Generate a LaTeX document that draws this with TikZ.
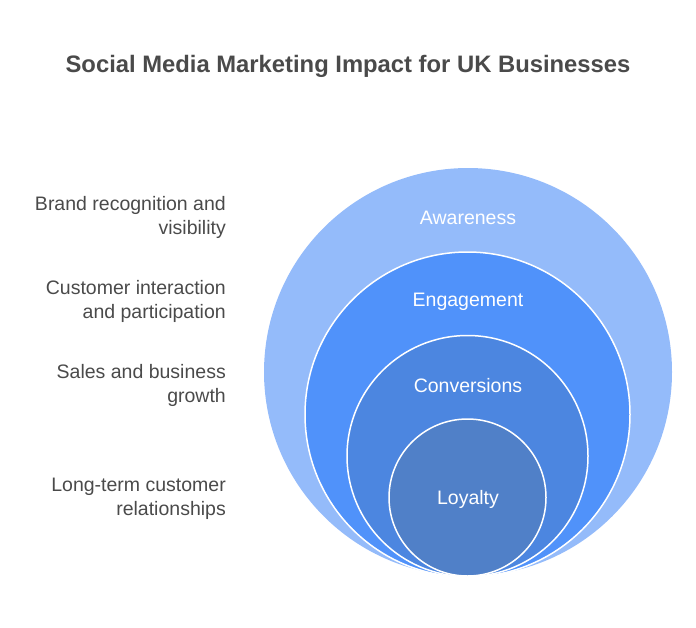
\documentclass[tikz,border=0pt]{standalone}
\usepackage{fontspec}
\setmainfont{Liberation Sans}
\definecolor{cAw}{RGB}{148,187,250}
\definecolor{cEn}{RGB}{80,146,250}
\definecolor{cCo}{RGB}{76,134,224}
\definecolor{cLo}{RGB}{80,128,200}
\definecolor{txt}{RGB}{74,74,74}
\begin{document}
\begin{tikzpicture}[x=1pt,y=-1pt,
  ring/.style={circle,draw=white,line width=1.5pt,inner sep=0pt},
  lbl/.style={text=white,font=\fontsize{19.5}{22}\selectfont},
  side/.style={anchor=east,align=right,text=txt,inner sep=0pt,font=\fontsize{19.5}{24}\selectfont}]
\useasboundingbox (0,0) rectangle (696,627);
\node[anchor=center,text=txt,font=\bfseries\fontsize{23.8}{26}\selectfont] (title) at (348,66) {Social Media Marketing Impact for UK Businesses};
\node[circle,fill=cAw,inner sep=0pt,minimum size=408pt] (aw) at (468,372) {};
\node[ring,fill=cEn,minimum size=325pt] (en) at (467.5,414.5) {};
\node[ring,fill=cCo,minimum size=241pt] (co) at (467.5,456) {};
\node[ring,fill=cLo,minimum size=157pt] (lo) at (467.5,497.5) {};
\node[lbl] (taw) at (468,217.5) {Awareness};
\node[lbl] (ten) at (468,301.5) {Engagement};
\node[lbl] (tco) at (468,385.5) {Conversions};
\node[lbl] (tlo) at (468,499) {Loyalty};
\node[side] (s1) at (226,217) {Brand recognition and\\visibility};
\node[side] (s2) at (226,301) {Customer interaction\\and participation};
\node[side] (s3) at (226,385) {Sales and business\\growth};
\node[side] (s4) at (226,499) {Long-term customer\\relationships};
\end{tikzpicture}
\end{document}
